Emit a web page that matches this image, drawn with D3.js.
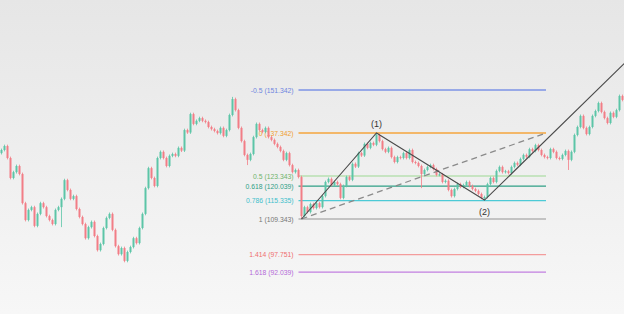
<!DOCTYPE html>
<html>
<head>
<meta charset="utf-8">
<script src="https://cdn.jsdelivr.net/npm/d3@7"></script>
<style>
  html, body { margin: 0; padding: 0; background: #f3f3f3; }
  svg { display: block; }
</style>
</head>
<body>
<svg id="chart"></svg>
<script>
// closing prices, one per candle (open = previous close)
const closes = [
  131.8, 133.1, 129.2, 122.7, 124.6, 126.6, 124.0, 114.5, 109.0, 112.3,
  113.2, 107.1, 111.0, 114.5, 113.2, 110.3, 109.0, 107.7, 112.3, 113.2,
  115.9, 122.0, 118.8, 115.9, 116.8, 112.6, 110.0, 107.7, 103.1, 106.7,
  108.4, 103.8, 99.2, 101.2, 106.4, 109.7, 111.0, 105.8, 100.5, 97.9,
  99.9, 95.7, 98.6, 100.2, 103.1, 101.5, 106.4, 111.0, 119.4, 125.9,
  122.7, 120.1, 129.2, 131.2, 129.2, 126.6, 129.9, 130.5, 129.9, 132.5,
  131.6, 138.3, 137.5, 143.5, 140.3, 141.3, 142.2, 141.3, 140.9, 139.3,
  138.6, 138.0, 137.3, 139.0, 136.4, 138.3, 143.2, 148.4, 144.8, 139.0,
  134.7, 130.2, 128.6, 130.5, 136.0, 140.3, 138.3, 137.7, 139.0, 136.0,
  135.1, 133.8, 132.8, 131.5, 128.6, 130.8, 126.9, 124.6, 125.3, 123.0,
  110.3, 113.2, 111.6, 114.2, 112.9, 114.5, 113.2, 116.8, 121.4, 122.4,
  120.4, 121.4, 120.7, 116.2, 120.1, 123.0, 122.1, 127.3, 126.4, 130.8,
  130.0, 133.8, 132.5, 134.1, 133.5, 136.7, 134.7, 132.1, 131.2, 132.5,
  129.5, 127.9, 129.5, 129.2, 130.8, 129.2, 131.8, 127.9, 127.6, 126.6,
  124.0, 125.3, 126.3, 126.9, 125.6, 123.7, 123.9, 121.4, 121.8, 118.8,
  116.8, 119.1, 120.7, 119.8, 120.4, 121.4, 120.1, 119.1, 118.5, 117.5,
  116.2, 116.5, 120.7, 122.7, 121.4, 125.0, 126.3, 124.6, 124.9, 124.3,
  126.3, 127.6, 127.0, 128.9, 130.2, 129.6, 132.1, 131.5, 133.4, 131.8,
  130.2, 129.5, 129.2, 132.1, 131.2, 129.2, 128.9, 130.2, 131.5, 128.6,
  131.2, 136.7, 139.3, 142.9, 139.0, 137.0, 139.3, 142.9, 144.5, 147.1,
  144.2, 142.2, 140.6, 143.9, 142.6, 144.8, 149.4, 148.1
];

// candles with a longer wick than usual: [index, high, low]
const longWicks = [
  [20, null, 106.7], [77, 149.1, null], [82, null, 126.9], [100, null, 109.343],
  [125, 137.342, null], [140, null, 119.4], [161, null, 115.5], [189, null, 125.3]
];

// Fibonacci levels (ratio, label value)
const fibRatios = [-0.5, 0, 0.5, 0.618, 0.786, 1, 1.414, 1.618];
const fibValues = ["151.342", "137.342", "123.343", "120.039", "115.335", "109.343", "97.751", "92.039"];
const fibColors = ["#7d93e6", "#f5a53c", "#b9e0b2", "#2f9f86", "#4ccad6", "#b3b3b3", "#f39c9c", "#c27fe0"];
const fibTextColors = ["#6f86e0", "#f0a030", "#6fb46a", "#2f9f86", "#3dbfcc", "#777777", "#ef6f6f", "#b46ad8"];
const fibHigh = 137.342, fibLow = 109.343;
const fibFrom = 99, fibTo = 181.5;

// wave legs (candle index, price)
const wavePoints = [[100, 109.343], [125, 137.342], [161, 115.5], [211, 163.2]];
const waveLabels = [["(1)", 125, 137.342, -6], ["(2)", 161, 115.5, 15]];
const dashedLine = [[100, 109.343], [181.5, 137.342]];

const W = 624, H = 314;
const wick = 0.45;

const svg = d3.select("#chart").attr("width", W).attr("height", H);

const defs = svg.append("defs");
const grad = defs.append("linearGradient").attr("id", "bg")
  .attr("x1", 0).attr("y1", 0).attr("x2", 0).attr("y2", 1);
grad.append("stop").attr("offset", "0%").attr("stop-color", "#e6e6e6");
grad.append("stop").attr("offset", "100%").attr("stop-color", "#f7f7f7");
svg.append("rect").attr("width", W).attr("height", H).attr("fill", "url(#bg)");

const n = closes.length;
const x = d3.scaleLinear().domain([-0.5, n - 0.5]).range([0, W]);
const y = d3.scaleLinear().domain([fibLow, fibHigh]).range([219, 133]);

const candles = closes.map((c, i) => {
  const o = i === 0 ? c - 1 : closes[i - 1];
  return { i, o, c, h: Math.max(o, c) + wick, l: Math.min(o, c) - wick };
});
longWicks.forEach(([i, h, l]) => {
  if (h !== null) candles[i].h = h;
  if (l !== null) candles[i].l = l;
});

const up = "#5cc5a7", down = "#f27d86";

// fib lines + labels
const fib = svg.append("g");
fibRatios.forEach((r, k) => {
  const p = fibHigh - (fibHigh - fibLow) * r;
  fib.append("line")
    .attr("x1", x(fibFrom)).attr("x2", x(fibTo))
    .attr("y1", y(p)).attr("y2", y(p))
    .attr("stroke", fibColors[k]).attr("stroke-width", 1.3);
  fib.append("text")
    .attr("x", x(fibFrom) - 5).attr("y", y(p))
    .attr("text-anchor", "end").attr("dominant-baseline", "central")
    .style("font-family", "Liberation Sans, Arial, sans-serif")
    .style("font-size", "6.8px")
    .attr("fill", fibTextColors[k])
    .text(`${r} (${fibValues[k]})`);
});

// candles
const cg = svg.append("g");
cg.selectAll("line.wick").data(candles).join("line")
  .attr("class", "wick")
  .attr("x1", d => x(d.i)).attr("x2", d => x(d.i))
  .attr("y1", d => y(d.h)).attr("y2", d => y(d.l))
  .attr("stroke", d => d.c >= d.o ? up : down).attr("stroke-width", 0.8);
cg.selectAll("rect.body").data(candles).join("rect")
  .attr("class", "body")
  .attr("x", d => x(d.i) - 1).attr("width", 2)
  .attr("y", d => y(Math.max(d.o, d.c)))
  .attr("height", d => Math.max(1, Math.abs(y(d.o) - y(d.c))))
  .attr("fill", d => d.c >= d.o ? up : down);

// dashed trend line
svg.append("line")
  .attr("x1", x(dashedLine[0][0])).attr("y1", y(dashedLine[0][1]))
  .attr("x2", x(dashedLine[1][0])).attr("y2", y(dashedLine[1][1]))
  .attr("stroke", "#8a8a8a").attr("stroke-width", 1.3)
  .attr("stroke-dasharray", "6,4");

// wave legs
const line = d3.line().x(d => x(d[0])).y(d => y(d[1]));
svg.append("path").datum(wavePoints)
  .attr("fill", "none").attr("stroke", "#4a4a4a").attr("stroke-width", 1.1)
  .attr("d", line);

svg.selectAll("text.wave").data(waveLabels).join("text")
  .attr("class", "wave")
  .attr("x", d => x(d[1])).attr("y", d => y(d[2]) + d[3])
  .attr("text-anchor", "middle")
  .style("font-family", "Liberation Sans, Arial, sans-serif")
  .style("font-size", "9px")
  .attr("fill", "#333")
  .text(d => d[0]);
</script>
</body>
</html>
